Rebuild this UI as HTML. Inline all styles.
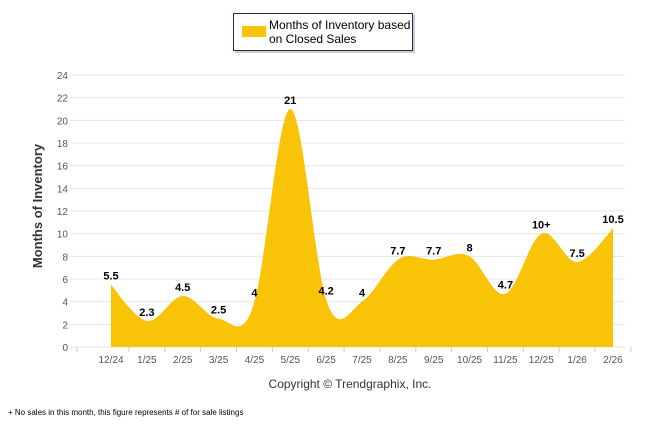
<!DOCTYPE html>
<html><head><meta charset="utf-8"><style>
body{margin:0;background:#fff;width:646px;height:434px;overflow:hidden;font-family:"Liberation Sans",sans-serif}
</style></head><body>
<svg width="646" height="434" xmlns="http://www.w3.org/2000/svg">
<g>
<rect x="235" y="15" width="180" height="38" fill="#999" opacity="0.5"/>
<rect x="233.5" y="13.5" width="179" height="37" fill="#fff" stroke="#1f2d4d" stroke-width="1"/>
<rect x="242" y="26" width="24" height="11" fill="#f9c307"/>
<text x="269" y="29" font-size="12" fill="#000">Months of Inventory based</text>
<text x="269" y="43" font-size="12" fill="#000">on Closed Sales</text>
</g>
<g id="grid"></g>
<g id="yticks"></g>
<g id="xticks"></g>
<path id="area" fill="#f9c307"/>
<g id="labels"></g>
<text transform="translate(42,206) rotate(-90)" text-anchor="middle" font-size="13" font-weight="bold" fill="#333">Months of Inventory</text>
<text x="350" y="388" text-anchor="middle" font-size="12" fill="#333">Copyright © Trendgraphix, Inc.</text>
<text x="8" y="415" font-size="8" fill="#000">+  No sales in this month, this figure represents # of for sale listings</text>
</svg>
<script>
const categories=["12/24","1/25","2/25","3/25","4/25","5/25","6/25","7/25","8/25","9/25","10/25","11/25","12/25","1/26","2/26"];
const values=[5.5,2.3,4.5,2.5,4,21,4.2,4,7.7,7.7,8,4.7,10,7.5,10.5];
const valueLabels=["5.5","2.3","4.5","2.5","4","21","4.2","4","7.7","7.7","8","4.7","10+","7.5","10.5"];
const yTicks=[0,2,4,6,8,10,12,14,16,18,20,22,24];
const NS="http://www.w3.org/2000/svg";
const y0=347,y1=75,ymax=24;
function y(v){return y0-(v/ymax)*(y0-y1);}
const step=(613-111)/(categories.length-1);
function x(i){return 111+i*step;}
function mk(t,a,p){const e=document.createElementNS(NS,t);for(const k in a)e.setAttribute(k,a[k]);p.appendChild(e);return e;}
const grid=document.getElementById('grid'),yt=document.getElementById('yticks'),xt=document.getElementById('xticks'),lb=document.getElementById('labels');
yTicks.forEach(v=>{
 const l=mk('line',{x1:70,x2:625,y1:y(v),y2:y(v),stroke:'#e6e6e6','stroke-width':1},grid);
 
 
 const t=mk('text',{x:68,y:y(v)+4,'text-anchor':'end','font-size':10,fill:'#555'},yt);
 
 
 t.textContent=v;
});
mk('line',{x1:77,x2:77,y1:y0,y2:y0+5,stroke:'#ccc'},xt);
categories.forEach((c,i)=>{
 const tk=mk('line',{x1:x(i)+step/2,x2:x(i)+step/2,y1:y0,y2:y0+5,stroke:'#ccc'},xt);
 
 
 const t=mk('text',{x:x(i),y:363,'text-anchor':'middle','font-size':10,fill:'#555'},xt);
 
 
 t.textContent=c;
 const v=mk('text',{x:x(i),y:y(values[i])-5,'text-anchor':'middle','font-size':11,'font-weight':'bold',fill:'#000'},lb);
 
 
 v.textContent=valueLabels[i];
});
const pts=values.map((v,i)=>[x(i),y(v)]);
let d=`M${pts[0][0]},${y0} L${pts[0][0]},${pts[0][1]}`;
for(let i=0;i<pts.length-1;i++){
 const p0=pts[Math.max(0,i-1)],p1=pts[i],p2=pts[i+1],p3=pts[Math.min(pts.length-1,i+2)];
 const t=0.5;
 const c1=[p1[0]+(p2[0]-p0[0])*t/3*1.0,p1[1]+(p2[1]-p0[1])*t/3*1.2];
 const c2=[p2[0]-(p3[0]-p1[0])*t/3*1.0,p2[1]-(p3[1]-p1[1])*t/3*1.2];
 d+=` C${c1[0]},${c1[1]} ${c2[0]},${c2[1]} ${p2[0]},${p2[1]}`;
}
d+=` L${pts[pts.length-1][0]},${y0} Z`;
document.getElementById('area').setAttribute('d',d);
</script>
</body></html>
